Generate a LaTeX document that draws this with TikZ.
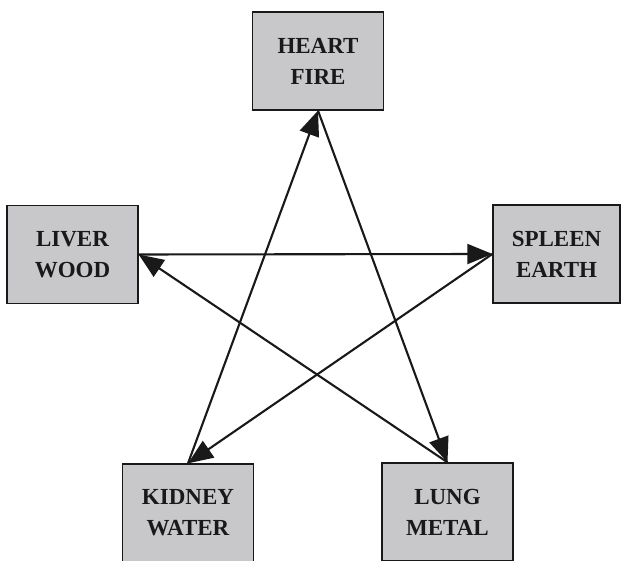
\documentclass[tikz,border=0pt]{standalone}
\usepackage{fontspec}
\setmainfont{Liberation Serif}
\usetikzlibrary{arrows.meta}
\definecolor{boxgray}{RGB}{200,200,202}
\definecolor{inkdark}{RGB}{25,25,25}
\begin{document}
\begin{tikzpicture}[x=1pt,y=1pt,
  organ/.style={draw=inkdark, line width=1.3pt, fill=boxgray,
    minimum width=131pt, minimum height=98pt, inner sep=0pt, align=center,
    font=\fontsize{23}{31}\selectfont\bfseries, text=inkdark},
  link/.style={draw=inkdark, line width=2.1pt, -{Triangle[length=25pt,width=20pt]}}]
\useasboundingbox (0,0) rectangle (621,561);
\clip (0,0) rectangle (621,561);
\fill[white] (0,0) rectangle (621,561);
\node[organ] (heart)  at (318,500)   {HEART\\FIRE};
\node[organ] (liver)  at (72.5,306.5) {LIVER\\WOOD};
\node[organ, minimum width=127pt] (spleen) at (556.5,307) {SPLEEN\\EARTH};
\node[organ] (kidney) at (188,48)    {KIDNEY\\WATER};
\node[organ] (lung)   at (447.5,49)  {LUNG\\METAL};
\draw[link] (liver.east)   -- (spleen.west);
\draw[link] (spleen.west)  -- (kidney.north);
\draw[link] (kidney.north) -- (heart.south);
\draw[link] (heart.south)  -- (lung.north);
\draw[link] (lung.north)   -- (liver.east);
\end{tikzpicture}
\end{document}
